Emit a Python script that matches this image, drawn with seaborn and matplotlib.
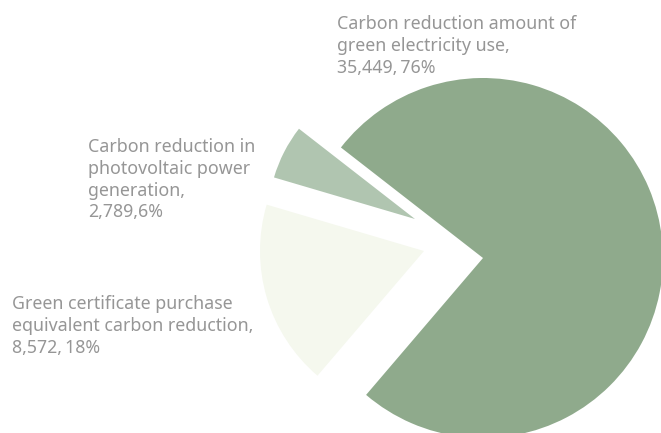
import matplotlib
matplotlib.use("Agg")
import matplotlib.pyplot as plt
import seaborn as sns

# Carbon reduction sources (tCO2e)
names = [
    "Carbon reduction amount of\ngreen electricity use,",
    "Carbon reduction in\nphotovoltaic power\ngeneration,",
    "Green certificate purchase\nequivalent carbon reduction,",
]
values = [35449, 2789, 8572]
separators = ["\u2009", "", "\u2009"]
colors = ["#8FAA8C", "#B0C5B0", "#F5F8EE"]

sns.set_theme(style="white")
plt.rcParams["font.family"] = ["Noto Sans", "DejaVu Sans"]

W, H = 661, 433
fig = plt.figure(figsize=(W / 100, H / 100), dpi=100)
ax = fig.add_axes([0, 0, 1, 1])

# wedge placement in pixel space (x, y from top) and individual radii
wedge_centers = [(483, 258), (415, 219), (424, 251)]
wedge_radii = [180, 147, 164]

wedges, _ = ax.pie(
    values,
    colors=colors,
    startangle=229.5,
    counterclock=True,
    radius=wedge_radii[0],
    center=(wedge_centers[0][0], H - wedge_centers[0][1]),
    wedgeprops=dict(linewidth=0),
)
for w, (cx, cy), r in zip(wedges, wedge_centers, wedge_radii):
    w.set_center((cx, H - cy))
    w.set_radius(r)

ax.set_xlim(0, W)
ax.set_ylim(0, H)
ax.set_aspect("equal")
ax.axis("off")

total = sum(values)
label_pos = [(337, 15), (88, 138), (12, 295)]
for name, v, sep, (x, y) in zip(names, values, separators, label_pos):
    pct = v / total * 100
    txt = f"{name}\n{v:,},{sep}{pct:.0f}%"
    ax.text(x, H - y, txt, ha="left", va="top", fontsize=12.8,
            color="#969696", linespacing=1.27)

fig.savefig("out.png", dpi=100)
